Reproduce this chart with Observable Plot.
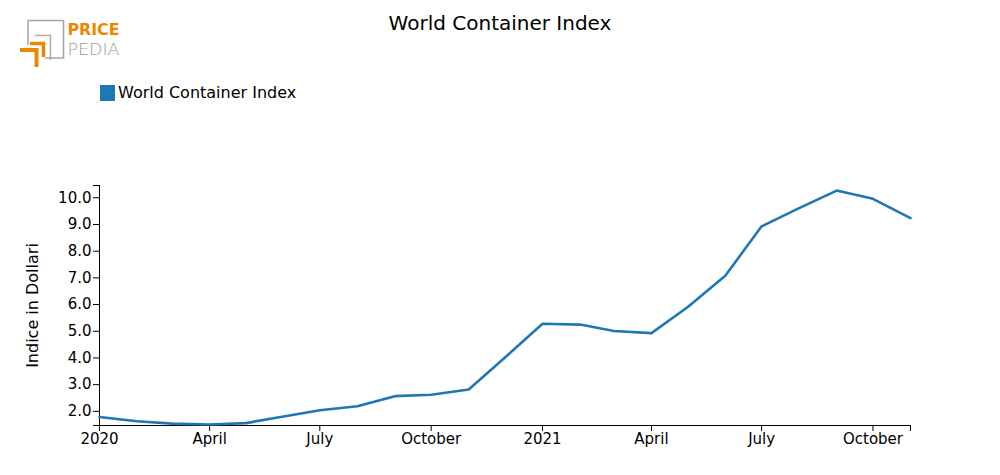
<!DOCTYPE html>
<html><head><meta charset="utf-8">
<script src="https://cdn.jsdelivr.net/npm/d3@7"></script>
<script src="https://cdn.jsdelivr.net/npm/@observablehq/plot@0.6"></script>
<style>
body{margin:0;background:#fff;font-family:"DejaVu Sans",sans-serif;color:#000;}
#wrap{position:relative;width:1000px;height:475px;overflow:hidden;}
#title{position:absolute;top:11px;left:0;width:1000px;text-align:center;font-size:20px;}
#logo{position:absolute;left:0;top:0;}
#legend{position:absolute;left:100px;top:83px;font-size:16px;display:flex;align-items:center;}
#legend .sw{width:15px;height:16px;background:#1f77b4;margin-right:3px;}
#chart{position:absolute;left:0;top:150px;}
</style></head><body>
<div id="wrap">
  <div id="title">World Container Index</div>
  <svg id="logo" width="130" height="75" viewBox="0 0 130 75">
    <path d="M28 45 V20.5 H63.5 V58 H45" fill="none" stroke="#a8a8a8" stroke-width="1.6"/>
    <path d="M35 35.5 H50.5 V60" fill="none" stroke="#b0b0b0" stroke-width="1.5"/>
    <path d="M30 43.5 H43.5 V57" fill="none" stroke="#e88a00" stroke-width="3.5"/>
    <path d="M20 50 H36.5 V67" fill="none" stroke="#e88a00" stroke-width="4"/>
    <text x="67.5" y="35" font-family="DejaVu Sans" font-weight="bold" font-size="16.5" fill="#e88a00" textLength="52" lengthAdjust="spacingAndGlyphs">PRICE</text>
    <text x="67.5" y="54.5" font-family="DejaVu Sans" font-weight="200" font-size="16.5" fill="#9a9a9a" textLength="52" lengthAdjust="spacingAndGlyphs">PEDIA</text>
  </svg>
  <div id="legend"><div class="sw"></div><span>World Container Index</span></div>
  <div id="chart"></div>
</div>
<script>
const months = ["2020-01","2020-02","2020-03","2020-04","2020-05","2020-06","2020-07","2020-08","2020-09","2020-10","2020-11","2020-12",
                "2021-01","2021-02","2021-03","2021-04","2021-05","2021-06","2021-07","2021-08","2021-09","2021-10","2021-11"];
const values = [1.79,1.63,1.54,1.51,1.56,1.81,2.04,2.19,2.57,2.62,2.82,4.02,
                5.28,5.25,5.01,4.93,5.91,7.08,8.93,9.61,10.27,9.96,9.24];
const yTicks = [2,3,4,5,6,7,8,9,10];
const yDomain = [1.47,10.46];
const monthNames = ["January","February","March","April","May","June","July","August","September","October","November","December"];

const parse = d3.utcParse("%Y-%m");
const data = months.map((m,i)=>({date:parse(m), value:values[i]}));
const xDomain = d3.extent(data, d=>d.date);
const xTicks = d3.utcMonth.every(3).range(xDomain[0], d3.utcDay.offset(xDomain[1],1));
const xFmt = d => d.getUTCMonth()===0 ? String(d.getUTCFullYear()) : monthNames[d.getUTCMonth()];
const yFmt = d3.format(".1f");

const chart = Plot.plot({
  width:1000, height:300,
  marginTop:35, marginBottom:25, marginLeft:99, marginRight:90,
  style:{fontFamily:"DejaVu Sans", fontSize:"15px", color:"#000", background:"transparent"},
  x:{type:"utc", domain:xDomain},
  y:{domain:yDomain},
  marks:[
    Plot.ruleX([xDomain[0]], {stroke:"#000", strokeWidth:1}),
    Plot.ruleY([yDomain[0]], {stroke:"#000", strokeWidth:1}),
    Plot.axisX({ticks:xTicks, tickFormat:xFmt, tickSize:6, tickPadding:2, fontSize:15, label:null}),
    Plot.axisX({ticks:[xDomain[1]], tickFormat:()=>"", tickSize:6, label:null}),
    Plot.axisY({ticks:yTicks, tickFormat:yFmt, tickSize:6, tickPadding:2, fontSize:15, label:null}),
    Plot.axisY({ticks:yDomain, tickFormat:()=>"", tickSize:6, label:null}),
    Plot.lineY(data, {x:"date", y:"value", stroke:"#1f77b4", strokeWidth:2.6}),
    Plot.text(["Indice in Dollari"], {frameAnchor:"left", rotate:-90, dx:-67, textAnchor:"middle", fontSize:16})
  ]
});
document.getElementById("chart").appendChild(chart);
</script>
</body></html>
